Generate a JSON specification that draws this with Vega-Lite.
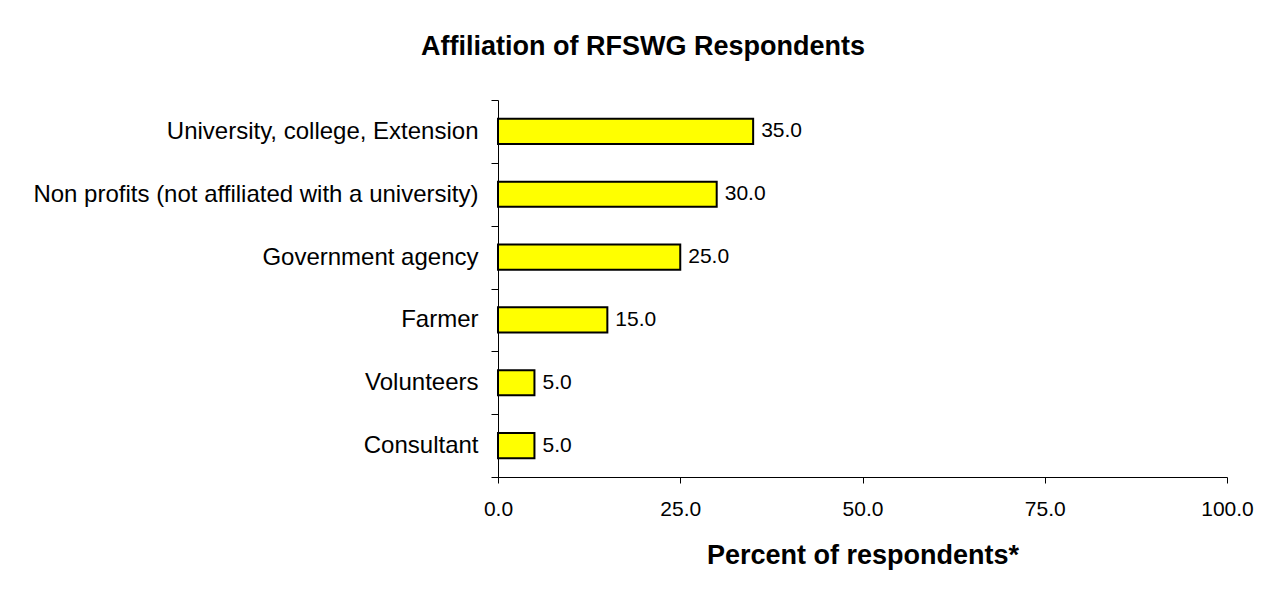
{
  "$schema": "https://vega.github.io/schema/vega-lite/v6.json",
  "width": 729,
  "height": 377,
  "autosize": {"type": "none"},
  "padding": {"left": 498, "top": 100, "right": 40, "bottom": 119},
  "background": "white",
  "title": {
    "text": "Affiliation of RFSWG Respondents",
    "font": "Liberation Sans",
    "fontSize": 27,
    "fontWeight": "bold",
    "color": "black",
    "anchor": "middle",
    "frame": "bounds",
    "baseline": "alphabetic",
    "offset": 6
  },
  "data": {
    "values": [
      {"affiliation": "University, college, Extension", "percent": 35.0},
      {"affiliation": "Non profits (not affiliated with a university)", "percent": 30.0},
      {"affiliation": "Government agency", "percent": 25.0},
      {"affiliation": "Farmer", "percent": 15.0},
      {"affiliation": "Volunteers", "percent": 5.0},
      {"affiliation": "Consultant", "percent": 5.0}
    ]
  },
  "encoding": {
    "y": {
      "field": "affiliation",
      "type": "nominal",
      "sort": null,
      "scale": {"paddingInner": 0, "paddingOuter": 0},
      "axis": {
        "title": null,
        "tickBand": "extent",
        "tickSize": 7,
        "labelPadding": 13,
        "labelFontSize": 24,
        "labelLimit": 600
      }
    },
    "x": {
      "field": "percent",
      "type": "quantitative",
      "scale": {"domain": [0, 100], "nice": false},
      "axis": {
        "title": "Percent of respondents*",
        "values": [0, 25, 50, 75, 100],
        "format": ".1f",
        "grid": false,
        "labelFlush": false,
        "tickSize": 6,
        "labelPadding": 15,
        "labelFontSize": 21,
        "titleFontSize": 27,
        "titleFontWeight": "bold",
        "titlePadding": 23
      }
    }
  },
  "layer": [
    {
      "mark": {
        "type": "bar",
        "height": {"band": 0.4},
        "color": "#FFFF00",
        "stroke": "black",
        "strokeWidth": 2
      }
    },
    {
      "mark": {
        "type": "text",
        "align": "left",
        "baseline": "middle",
        "dx": 8,
        "font": "Liberation Sans",
        "fontSize": 21,
        "color": "black"
      },
      "encoding": {
        "text": {"field": "percent", "type": "quantitative", "format": ".1f"}
      }
    }
  ],
  "config": {
    "view": {"stroke": null},
    "font": "Liberation Sans",
    "axis": {
      "domainColor": "black",
      "tickColor": "black",
      "labelColor": "black",
      "titleColor": "black",
      "labelFont": "Liberation Sans",
      "titleFont": "Liberation Sans",
      "domainWidth": 1,
      "tickWidth": 1
    }
  }
}
